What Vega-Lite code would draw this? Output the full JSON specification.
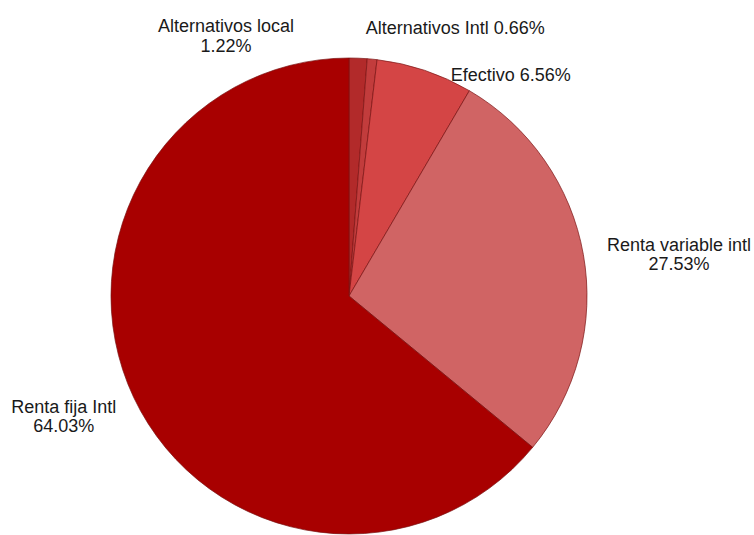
{
  "$schema": "https://vega.github.io/schema/vega-lite/v6.json",
  "width": 476,
  "height": 476,
  "autosize": "none",
  "padding": {"left": 111, "top": 58, "right": 167, "bottom": 1},
  "background": "white",
  "view": {"stroke": null},
  "data": {
    "values": [
      {"name": "Alternativos local", "value": 1.22, "order": 1, "label": "Alternativos local\n1.22%"},
      {"name": "Alternativos Intl", "value": 0.66, "order": 2, "label": "Alternativos Intl 0.66%"},
      {"name": "Efectivo", "value": 6.56, "order": 3, "label": "Efectivo 6.56%"},
      {"name": "Renta variable intl", "value": 27.53, "order": 4, "label": "Renta variable intl\n27.53%"},
      {"name": "Renta fija Intl", "value": 64.03, "order": 5, "label": "Renta fija Intl\n64.03%"}
    ]
  },
  "encoding": {
    "theta": {"field": "value", "type": "quantitative", "stack": true},
    "order": {"field": "order", "type": "quantitative"}
  },
  "layer": [
    {
      "mark": {"type": "arc", "outerRadius": 238, "stroke": "#7a1212", "strokeWidth": 0.7},
      "encoding": {
        "color": {
          "field": "name",
          "type": "nominal",
          "scale": {
            "domain": ["Alternativos local", "Alternativos Intl", "Efectivo", "Renta variable intl", "Renta fija Intl"],
            "range": ["#b22a2a", "#c23c3c", "#d44545", "#d06464", "#a80000"]
          },
          "legend": null
        }
      }
    },
    {
      "mark": {"type": "text", "radius": 260, "dx": -133, "dy": -9, "lineBreak": "\n", "lineHeight": 20, "font": "Liberation Sans", "fontSize": 18, "color": "#1a1a1a", "align": "center", "baseline": "middle"},
      "encoding": {"text": {"condition": {"test": "datum.name === 'Alternativos local'", "field": "label"}, "value": ""}}
    },
    {
      "mark": {"type": "text", "radius": 260, "dx": 81, "dy": -8, "lineBreak": "\n", "lineHeight": 20, "font": "Liberation Sans", "fontSize": 18, "color": "#1a1a1a", "align": "center", "baseline": "middle"},
      "encoding": {"text": {"condition": {"test": "datum.name === 'Alternativos Intl'", "field": "label"}, "value": ""}}
    },
    {
      "mark": {"type": "text", "radius": 260, "dx": 79, "dy": 26, "lineBreak": "\n", "lineHeight": 20, "font": "Liberation Sans", "fontSize": 18, "color": "#1a1a1a", "align": "center", "baseline": "middle"},
      "encoding": {"text": {"condition": {"test": "datum.name === 'Efectivo'", "field": "label"}, "value": ""}}
    },
    {
      "mark": {"type": "text", "radius": 260, "dx": 74, "dy": -5, "lineBreak": "\n", "lineHeight": 19, "font": "Liberation Sans", "fontSize": 18, "color": "#1a1a1a", "align": "center", "baseline": "middle"},
      "encoding": {"text": {"condition": {"test": "datum.name === 'Renta variable intl'", "field": "label"}, "value": ""}}
    },
    {
      "mark": {"type": "text", "radius": 260, "dx": -50, "dy": 1, "lineBreak": "\n", "lineHeight": 19, "font": "Liberation Sans", "fontSize": 18, "color": "#1a1a1a", "align": "center", "baseline": "middle"},
      "encoding": {"text": {"condition": {"test": "datum.name === 'Renta fija Intl'", "field": "label"}, "value": ""}}
    }
  ]
}
